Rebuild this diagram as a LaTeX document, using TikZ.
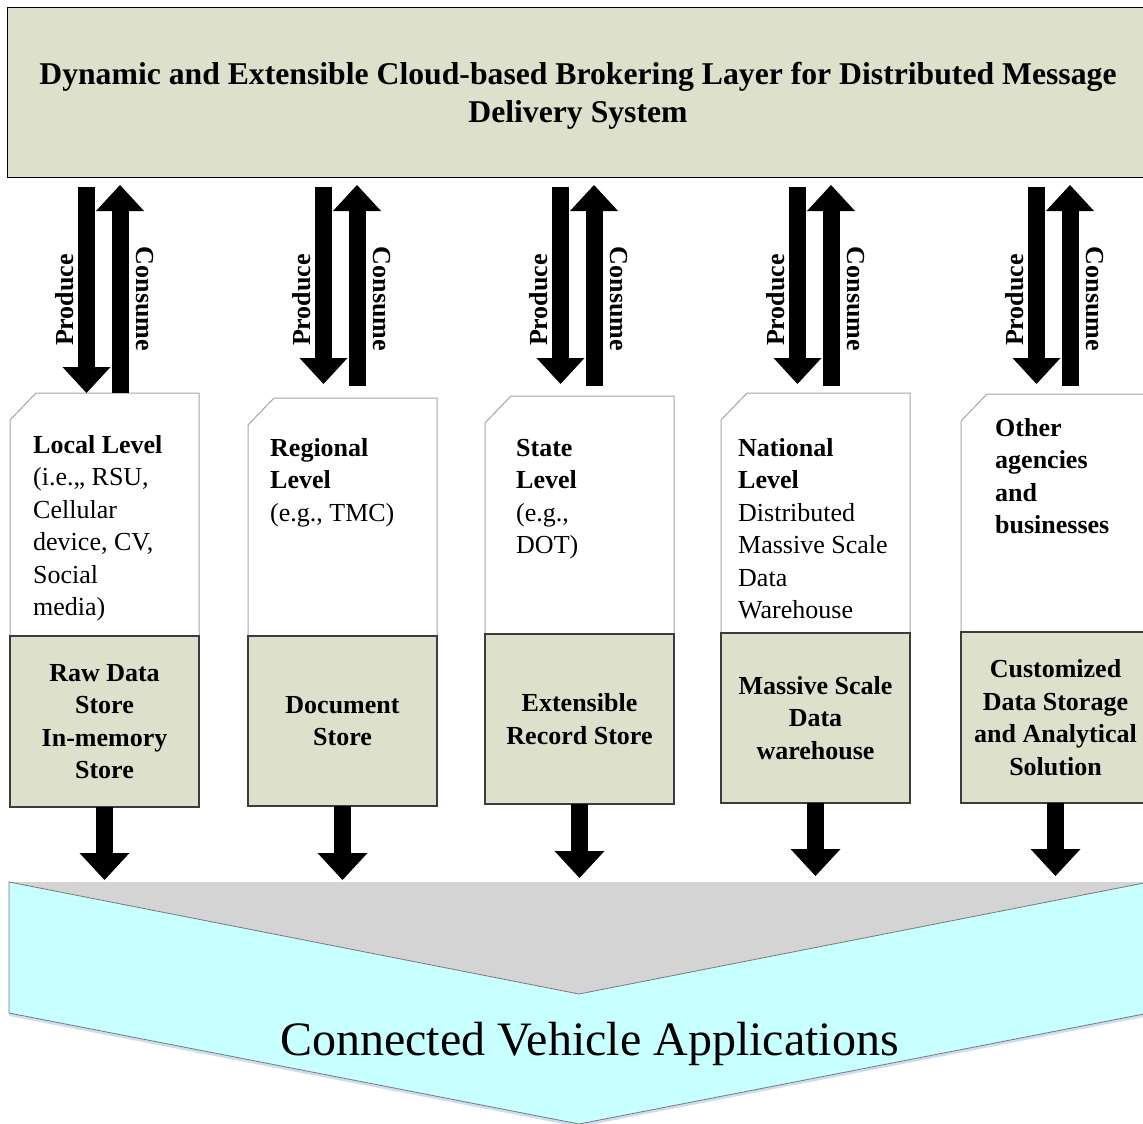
\documentclass[tikz,border=0pt]{standalone}
\usepackage{fontspec}
\setmainfont{Liberation Serif}
\usetikzlibrary{arrows.meta}

\definecolor{brokerfill}{RGB}{221,224,203}
\definecolor{appcyan}{RGB}{200,255,255}
\definecolor{appgray}{RGB}{212,212,212}
\definecolor{appshadow}{RGB}{205,222,240}
\definecolor{appedge}{RGB}{120,120,120}
\definecolor{cardline}{RGB}{165,165,165}
\definecolor{cardedge}{RGB}{60,60,60}

\newcommand\cardstrut{\rule{0pt}{20pt}}

\tikzset{
  layer/.style={draw=black, line width=1.2pt, fill=brokerfill},
  flow/.style={line width=17pt, -{Triangle[length=26pt,width=48pt,line width=0pt]}},
  outflow/.style={line width=17pt, -{Triangle[length=27pt,width=50pt,line width=0pt]}},
  rotlabel/.style={font=\fontsize{26}{26}\selectfont\bfseries, inner sep=0pt},
  cardtop/.style={draw=cardline, line width=1pt, fill=white},
  cardbase/.style={draw=cardedge, line width=1.2pt, fill=brokerfill},
  cardtext/.style={font=\fontsize{26}{32.5}\selectfont, align=left, anchor=north west, inner sep=0pt},
  basetext/.style={font=\fontsize{26}{32.5}\selectfont\bfseries, align=center, inner sep=0pt},
}

\begin{document}
\begin{tikzpicture}[x=1pt,y=-1pt]
\useasboundingbox (0,0) rectangle (1143,1124);

% brokering layer
\node[layer, anchor=north west, minimum width=1160pt, minimum height=170pt, inner sep=0pt] (broker) at (7,7) {};
\node[font=\fontsize{31.7}{38}\selectfont\bfseries, align=center, inner sep=0pt] (title) at (578,96)
  {Dynamic and Extensible Cloud-based Brokering Layer for Distributed Message\\Delivery System};

% level cards: label part on top, storage part below
\foreach \i/\L/\T/\S/\B in {1/10/393/636/807, 2/248/398/636/806, 3/485/396/634/804, 4/721/393/633/803, 5/961/394/632/803}{
  \draw[cardtop] (\L+26,\T) -- (\L+189,\T) -- (\L+189,\S) -- (\L,\S) -- (\L,\T+27) -- cycle;
  \draw[cardbase] (\L,\S) rectangle (\L+189,\B);
  \coordinate (store\i) at (\L+94.5,{(\S+\B)/2});
  \coordinate (out\i) at (\L+94.5,\B);
}

\node[cardtext] (card1) at (33,433) {\cardstrut\textbf{Local Level}\\(i.e.,, RSU,\\Cellular\\device, CV,\\Social\\media)};
\node[cardtext] (card2) at (270,436) {\cardstrut\textbf{Regional}\\\textbf{Level}\\(e.g., TMC)};
\node[cardtext] (card3) at (516,436) {\cardstrut\textbf{State}\\\textbf{Level}\\(e.g.,\\DOT)};
\node[cardtext] (card4) at (738,436) {\cardstrut\textbf{National}\\\textbf{Level}\\Distributed\\Massive Scale\\Data\\Warehouse};
\node[cardtext] (card5) at (995,416) {\cardstrut\textbf{Other}\\\textbf{agencies}\\\textbf{and}\\\textbf{businesses}};

\node[basetext] (base1) at (store1) {Raw Data\\Store\\In-memory\\Store};
\node[basetext] (base2) at (store2) {Document\\Store};
\node[basetext] (base3) at (store3) {Extensible\\Record Store};
\node[basetext] (base4) at (store4) {Massive Scale\\Data\\warehouse};
\node[basetext] (base5) at (store5) {Customized\\Data Storage\\and Analytical\\Solution};

% produce / consume arrows between the layer and each card
\foreach \i/\dx/\tip/\bot in {1/0/393/393, 2/237/384/386, 3/474/384/386, 4/711/384/386, 5/950/384/386}{
  \coordinate (prod\i) at (86.5+\dx,187);
  \coordinate (prodend\i) at (86.5+\dx,\tip);
  \coordinate (cons\i) at (120+\dx,\bot);
  \coordinate (consend\i) at (120+\dx,185);
  \draw[flow] (prod\i) -- (prodend\i);
  \draw[flow] (cons\i) -- (consend\i);
  \node[rotlabel, rotate=90] (plabel\i) at (65+\dx,300) {Produce};
  \node[rotlabel, rotate=-90] (clabel\i) at (145+\dx,299) {Consume};
}

% applications chevron
\fill[appshadow] (9,1016) -- (579,1127) -- (1149,1016) -- (1149,1013) -- (579,1124) -- (9,1013) -- cycle;
\fill[appgray] (9,882) -- (1149,882) -- (579,994) -- cycle;
\draw[draw=appedge, line width=0.8pt, fill=appcyan] (9,882) -- (579,994) -- (1149,882) -- (1149,1013) -- (579,1124) -- (9,1013) -- cycle;
\node[font=\fontsize{48}{48}\selectfont, anchor=base, inner sep=0pt] (apps) at (589.5,1055) {Connected Vehicle Applications};

% storage outputs feeding the applications
\foreach \i/\x/\tip in {1/104.5/880, 2/342.5/880, 3/579.5/878, 4/815.5/876, 5/1055.5/876}{
  \coordinate (feed\i) at (\x,\tip);
  \draw[outflow] (out\i) -- (feed\i);
}
\end{tikzpicture}
\end{document}
